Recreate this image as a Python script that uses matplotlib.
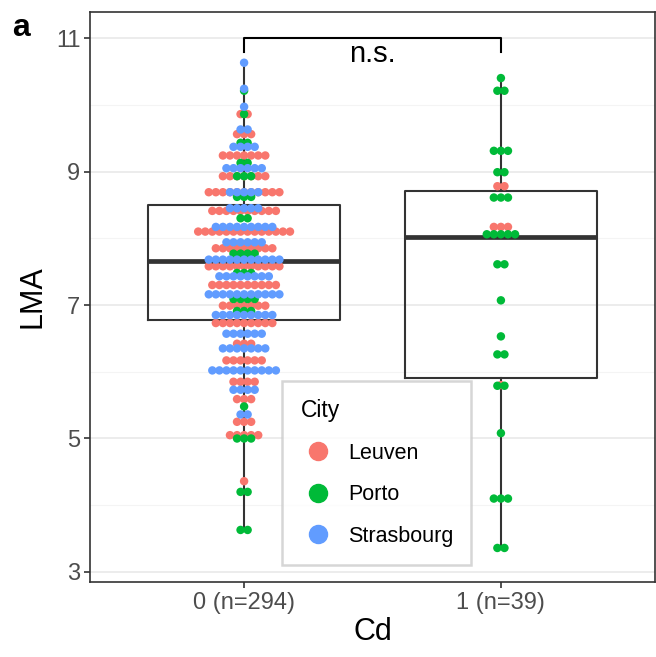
import matplotlib.pyplot as plt
import numpy as np
from matplotlib.lines import Line2D

plt.rcParams['font.family'] = ['Liberation Sans', 'DejaVu Sans']

# 分组与颜色
groups = ['0 (n=294)', '1 (n=39)']
cities = ['Leuven', 'Porto', 'Strasbourg']
city_colors = ['#F8766D', '#00BA38', '#619CFF']

# 每行的 LMA 值和点数 (Cd = 0)
leuven0_vals = [9.86, 9.56, 9.24, 8.93, 8.69, 8.41, 8.10, 7.85, 7.58, 7.30, 6.99, 6.73,
                6.42, 6.17, 5.85, 5.59, 5.25, 5.05, 4.36]
leuven0_counts = [2, 3, 7, 7, 11, 10, 14, 9, 11, 10, 7, 9, 3, 6, 4, 3, 3, 5, 1]
porto0_vals = [10.21, 9.86, 9.43, 9.13, 8.93, 8.62, 8.30, 7.77, 7.48, 7.09, 6.91, 5.48,
               5.00, 4.20, 3.63]
porto0_counts = [1, 1, 2, 2, 3, 3, 2, 4, 3, 4, 3, 1, 3, 2, 2]
stras0_vals = [10.63, 10.24, 9.97, 9.63, 9.37, 9.05, 8.69, 8.45, 8.17, 7.94, 7.68, 7.43,
               7.16, 6.85, 6.57, 6.35, 6.02, 5.73, 5.36]
stras0_counts = [1, 1, 1, 2, 4, 6, 5, 5, 9, 6, 11, 8, 11, 9, 6, 7, 10, 4, 2]

# Cd = 1
leuven1_vals = [8.78, 8.17, 5.80]
leuven1_counts = [2, 3, 1]
porto1_vals = [10.40, 10.21, 9.31, 8.99, 8.61, 8.06, 7.61, 7.07, 6.53, 6.26, 5.79, 5.08,
               4.10, 3.36]
porto1_counts = [1, 2, 3, 2, 3, 5, 2, 1, 1, 2, 2, 1, 3, 2]
stras1_vals = []
stras1_counts = []

# 箱线图统计量 (whislo, q1, med, q3, whishi)
box_whislo = [3.63, 3.36]
box_q1 = [6.78, 5.90]
box_med = [7.66, 8.02]
box_q3 = [8.50, 8.71]
box_whishi = [10.63, 10.40]

dot_step = 0.0275


def swarm_rows(center, vals, counts):
    xs, ys = [], []
    for v, n in zip(vals, counts):
        for i in range(n):
            xs.append(center + (i - (n - 1) / 2) * dot_step)
            ys.append(v)
    return xs, ys


fig = plt.figure(figsize=(6.56, 6.57), dpi=100)
ax = fig.add_axes([90 / 656, 75 / 657, 565 / 656, 570 / 657])

# 网格
for y in [3, 5, 7, 9, 11]:
    ax.axhline(y, color='#EBEBEB', lw=1.3, zorder=0)
for y in [4, 6, 8, 10]:
    ax.axhline(y, color='#F4F4F4', lw=0.8, zorder=0)

stats = []
for i in range(2):
    stats.append(dict(whislo=box_whislo[i], q1=box_q1[i], med=box_med[i],
                      q3=box_q3[i], whishi=box_whishi[i], fliers=[]))
ax.bxp(stats, positions=[1, 2], widths=0.75, showcaps=False, patch_artist=False,
       boxprops=dict(color='#333333', lw=1.5),
       whiskerprops=dict(color='#333333', lw=1.5),
       medianprops=dict(color='#333333', lw=3.4), zorder=1)

data = [
    [(leuven0_vals, leuven0_counts), (porto0_vals, porto0_counts), (stras0_vals, stras0_counts)],
    [(leuven1_vals, leuven1_counts), (porto1_vals, porto1_counts), (stras1_vals, stras1_counts)],
]
for gi, gdata in enumerate(data):
    for ci, (vals, counts) in enumerate(gdata):
        xs, ys = swarm_rows(gi + 1, vals, counts)
        ax.scatter(xs, ys, s=37, color=city_colors[ci], edgecolors='none', zorder=3)

# 显著性标记
ax.plot([1, 1, 2, 2], [10.79, 11.0, 11.0, 10.79], color='black', lw=1.5, zorder=4)
ax.text(1.5, 10.76, 'n.s.', ha='center', va='center', fontsize=21)

ax.set_xlim(0.4, 2.6)
ax.set_ylim(2.85, 11.39)
ax.set_xticks([1, 2])
ax.set_xticklabels(groups)
ax.set_yticks([3, 5, 7, 9, 11])
ax.tick_params(colors='#333333', labelcolor='#4D4D4D', labelsize=17, length=4, width=1.2,
               pad=3)
for s in ax.spines.values():
    s.set_color('#333333')
    s.set_linewidth(1.2)
ax.set_xlabel('Cd', fontsize=22, labelpad=2)
ax.set_ylabel('LMA', fontsize=22, labelpad=6)

# 图例
handles = [Line2D([], [], marker='o', ls='', markersize=13, color=c) for c in city_colors]
leg = ax.legend(handles, cities, title='City', loc='lower left',
                bbox_to_anchor=(0.340, 0.030), borderaxespad=0, fontsize=15.5,
                title_fontsize=16.5, alignment='left', frameon=True, fancybox=False,
                labelspacing=0.95, handletextpad=0.6, borderpad=0.85, handlelength=1.6)
leg.get_frame().set_edgecolor('#CCCCCC')
leg.get_frame().set_linewidth(1.8)
leg.set_zorder(5)

fig.text(12 / 656, 1 - 28 / 657, 'a', fontsize=23, fontweight='bold', ha='left', va='center')

fig.savefig('out.png', dpi=100)
